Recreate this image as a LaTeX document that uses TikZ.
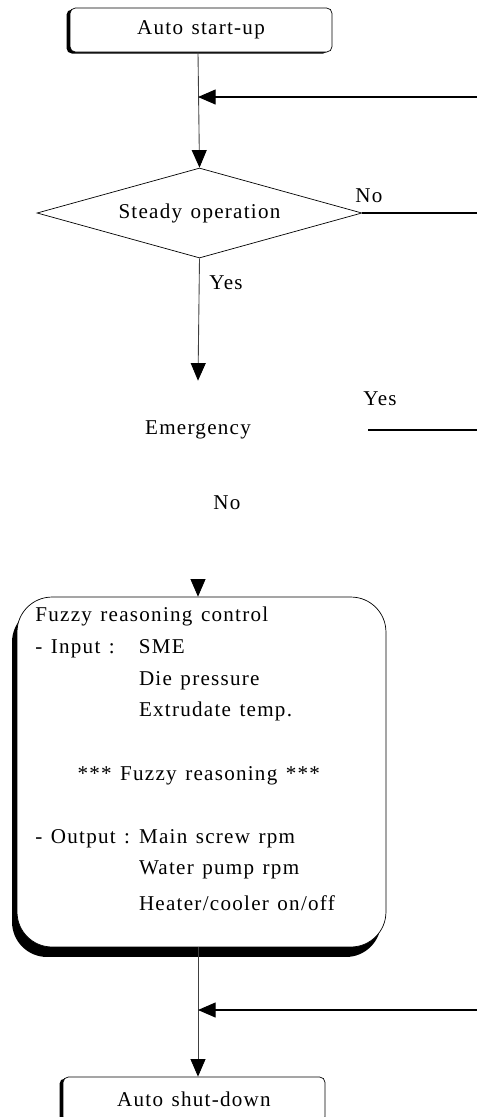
\documentclass[tikz,border=0pt]{standalone}
\usepackage{fontspec}
\setmainfont{Liberation Serif}[LetterSpace=6,WordSpace=1.3]
\usetikzlibrary{shapes.geometric,shadows,arrows.meta}
\tikzstyle{termbox}=[shape=rectangle,draw=black,rounded corners=3pt,fill=white,minimum width=5.24cm,minimum height=0.88cm,drop shadow={shadow xshift=-0.07cm,shadow yshift=-0.03cm,opacity=1,fill=black}]
\tikzstyle{decision}=[shape=diamond,draw=black,inner sep=0pt,aspect=3.6,minimum width=6.5cm,minimum height=1.8cm]
\tikzstyle{procbox}=[shape=rectangle,draw=black,rounded corners=0.7cm,fill=white,minimum width=7.38cm,minimum height=7cm,drop shadow={shadow xshift=-0.1cm,shadow yshift=-0.2cm,opacity=1,fill=black}]
\tikzstyle{flowedge}=[draw=black!75,line width=0.5pt,-{Triangle[length=10pt,width=8.5pt,color=black]}]
\tikzstyle{sideedge}=[draw=black,line width=0.6pt,-{Triangle[length=10pt,width=8.5pt]}]
\tikzstyle{sideline}=[draw=black,line width=0.6pt]

\begin{document}
\begin{tikzpicture}[x=0.02cm,y=-0.02cm,font=\fontsize{12}{18}\selectfont]
\useasboundingbox (0,0) rectangle (477,1117);

\node[termbox] (start) at (201,30) {Auto start-up};

\node[decision] (steady) at (199.5,213) {Steady operation};
\node (steadyno) at (369,196) {No};
\node (steadyyes) at (226,283) {Yes};

% emergency check, its outline is not drawn
\node[decision,draw=none,minimum width=6.8cm,minimum height=1.96cm] (emerg) at (198,430) {Emergency};
\node (emergyes) at (380,399) {Yes};
\node (emergno) at (227,503) {No};

\node[procbox] (fuzzy) at (201.5,772) {};
\node[anchor=north west,inner sep=0pt,align=left] (fuzzytext) at (35,607)
 {Fuzzy reasoning control\\
  \makebox[59pt][l]{- Input :}SME\\
  \hspace*{59pt}Die pressure\\
  \hspace*{59pt}Extrudate temp.\\[18pt]
  \hspace*{24pt}*** Fuzzy reasoning ***\\[18pt]
  \makebox[59pt][l]{- Output :}Main screw rpm\\
  \hspace*{59pt}Water pump rpm\\[2pt]
  \hspace*{59pt}Heater/cooler on/off};

\node[termbox,minimum height=0.9cm] (stop) at (194,1099.5) {Auto shut-down};

\coordinate (in1) at (477,97);
\coordinate (j1) at (198,97);
\coordinate (out1) at (477,213);
\coordinate (out2) at (477,430);
\coordinate (fzin) at (198,580);
\coordinate (in2) at (477,1010);
\coordinate (j2) at (198,1010);

\path
(start.south -| j1) edge [flowedge] (steady.north)
(in1) edge [sideedge] (j1)
(steady.east) edge [sideline] (out1)
(steady.south) edge [flowedge] (emerg.north)
(emerg.east) edge [sideline] (out2)
(fzin) edge [flowedge] (fzin |- fuzzy.north)
(fuzzy.south -| j2) edge [flowedge] (stop.north -| j2)
(in2) edge [sideedge] (j2);

\end{tikzpicture}
\end{document}
